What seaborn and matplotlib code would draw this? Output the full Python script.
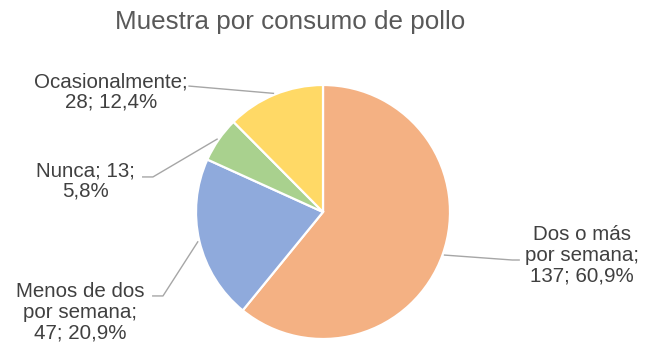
import numpy as np
import matplotlib
matplotlib.use("Agg")
import matplotlib.pyplot as plt
import seaborn as sns

# ---- data ----
categories = ["Dos o más\npor semana", "Menos de dos\npor semana", "Nunca", "Ocasionalmente"]
values = [137, 47, 13, 28]
label_texts = ["Dos o más\npor semana;\n137; 60,9%",
               "Menos de dos\npor semana;\n47; 20,9%",
               "Nunca; 13;\n5,8%",
               "Ocasionalmente;\n28; 12,4%"]
colors = ["#F4B183", "#8FAADC", "#A9D18E", "#FFD966"]
title = "Muestra por consumo de pollo"

# label layout (data units, pie radius = 1)
label_pos = [(2.04, -0.34), (-1.91, -0.79), (-1.87, 0.245), (-1.67, 0.945)]
elbow_pos = [[(1.49, -0.378), (1.55, -0.378)],
             [(-1.26, -0.661), (-1.346, -0.661)],
             [(-1.339, 0.276), (-1.425, 0.276)],
             [(-1.06, 0.992), (-1.06, 0.992)]]

sns.set_theme(style="white")
plt.rcParams["font.family"] = ["Liberation Sans", "DejaVu Sans"]

W, H = 646, 351
fig = plt.figure(figsize=(W / 100, H / 100), dpi=100)
cx, cy, r = 323, 212, 127
ax = fig.add_axes([(cx - r) / W, (H - cy - r) / H, 2 * r / W, 2 * r / H])

wedges, _ = ax.pie(values, colors=colors, startangle=90, counterclock=False,
                   radius=1, wedgeprops=dict(edgecolor="white", linewidth=1.6))
ax.set_xlim(-1, 1)
ax.set_ylim(-1, 1)
ax.set_aspect("equal")
ax.axis("off")

for w, txt, lp, el in zip(wedges, label_texts, label_pos, elbow_pos):
    ang = np.deg2rad((w.theta1 + w.theta2) / 2)
    px, py = 1.01 * np.cos(ang), 1.01 * np.sin(ang)
    xs = [px] + [p[0] for p in el]
    ys = [py] + [p[1] for p in el]
    ax.plot(xs, ys, color="#A6A6A6", lw=1.0, clip_on=False, solid_capstyle="butt")
    ax.text(lp[0], lp[1], txt, ha="center", va="center", multialignment="center",
            fontsize=14.8, color="#404040", linespacing=1.1, clip_on=False)

fig.text(290 / W, 1 - 29 / H, title, ha="center", va="baseline",
         fontsize=18.7, color="#595959")

fig.savefig("out.png", dpi=100, facecolor="white")
